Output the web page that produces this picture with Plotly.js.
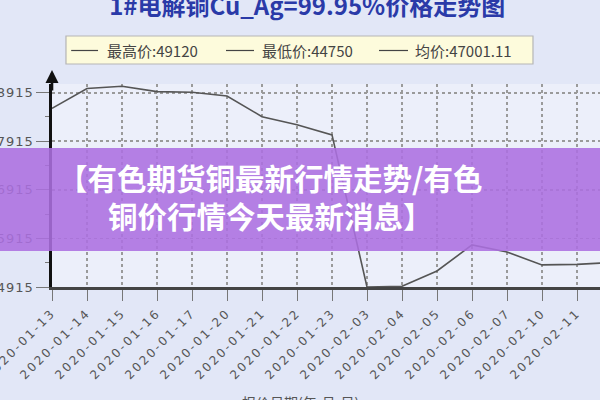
<!DOCTYPE html>
<html>
<head>
<meta charset="utf-8">
<script src="https://cdn.plot.ly/plotly-3.0.1.min.js"></script>
<style>
html,body{margin:0;padding:0;background:#e2e7f7;}
#chart{width:600px;height:400px;}
.xtick text{letter-spacing:2.4px;}
.ytick text{letter-spacing:1px;}
</style>
</head>
<body>
<div id="chart"></div>
<script>
// ---- data ----
const dates = ['2020-01-13','2020-01-14','2020-01-15','2020-01-16','2020-01-17','2020-01-20','2020-01-21','2020-01-22','2020-01-23','2020-02-03','2020-02-04','2020-02-05','2020-02-06','2020-02-07','2020-02-10','2020-02-11','2020-02-12'];
const prices = [48590, 49000, 49045, 48935, 48922, 48845, 48420, 48255, 48045, 44915, 44930, 45245, 45780, 45635, 45370, 45380, 45420];
const yTicks = [44915, 45915, 46915, 47915, 48915];
const yTickText = ['44915', '45915', '46915', '47915', '48915'];
const chartTitle = '1#电解铜Cu_Ag=99.95%价格走势图';
const legendTexts = ['最高价:49120', '最低价:44750', '均价:47001.11'];
const bannerText = '【有色期货铜最新行情走势/有色<br>铜价行情今天最新消息】';
const xAxisTitle = '报价日期(年-月-日)';

const trace = {
  x: dates, y: prices, type: 'scatter', mode: 'lines',
  line: {color: '#555', width: 1.6},
  hoverinfo: 'skip', showlegend: false
};

// legend line positions (paper coords; plot spans x 52..600, y 84..287 px)
const legLines = [[0.035, 0.084], [0.3175, 0.3686], [0.5967, 0.6496]];
const legTextX = [0.0985, 0.3815, 0.661];
const legY = (287 - 50.5) / 203;

const shapes = [
  {type:'rect', xref:'paper', yref:'paper', x0:0.0255, x1:0.8777, y0:(287-64)/203, y1:(287-36)/203,
   fillcolor:'#fdfbdc', line:{color:'#b5b5b5', width:1.2}, layer:'above'},
];
legLines.forEach(l => shapes.push({type:'line', xref:'paper', yref:'paper', x0:l[0], x1:l[1], y0:legY, y1:legY,
  line:{color:'#444', width:1.2}, layer:'above'}));
shapes.push({type:'rect', xref:'paper', yref:'paper', x0:-0.12, x1:1.02, y0:0.1773, y1:0.6847,
  fillcolor:'rgba(172,112,224,0.88)', line:{width:0}, layer:'above'});

const annotations = legendTexts.map((t, i) => ({
  text: t, xref:'paper', yref:'paper', x: legTextX[i], y: legY, xanchor:'left', yanchor:'middle',
  showarrow:false, borderpad:0, font:{family:'Noto Sans CJK SC', size:15, color:'#444'}
}));
annotations.push({
  text: bannerText, xref:'paper', yref:'paper', x:0.398, y:0.446, xanchor:'center', yanchor:'middle',
  showarrow:false, align:'center',
  font:{family:'Noto Sans CJK SC', size:29.5, color:'#ffffff', weight:700}
});
annotations.push({
  text: xAxisTitle, xref:'paper', yref:'paper', x:0.4526, y:-0.565, xanchor:'center', yanchor:'middle',
  showarrow:false, font:{family:'Noto Sans CJK SC', size:14, color:'#555'}
});
// y-axis arrow
annotations.push({
  text:'', xref:'paper', yref:'paper', x:0, y:1.069, ax:0, ay:22, showarrow:true,
  arrowhead:2, arrowsize:1, arrowwidth:2.6, arrowcolor:'#111'
});

const layout = {
  width: 600, height: 400,
  margin: {l:52, r:0, t:84, b:113, pad:0},
  paper_bgcolor: '#e2e7f7',
  plot_bgcolor: '#eceffa',
  title: {
    text: chartTitle, x:0.512, xanchor:'center', xref:'container',
    y:0.983, yref:'container', yanchor:'middle',
    font:{family:'Noto Sans CJK SC', size:24, color:'#2a3aa8', weight:700}
  },
  xaxis: {
    type:'category', range:[0, 15.657], tickangle:-45,
    showgrid:true, gridcolor:'#9a9a9a', griddash:'dot', gridwidth:1.5,
    showline:true, linecolor:'#444', linewidth:3,
    ticks:'outside', ticklen:11, tickcolor:'#777', tickwidth:1,
    tickfont:{family:'DejaVu Sans', size:12, color:'#555'},
    automargin:false, zeroline:false, fixedrange:true
  },
  yaxis: {
    range:[44915, 49092], tickvals: yTicks, ticktext: yTickText,
    showgrid:true, gridcolor:'#9a9a9a', griddash:'dot', gridwidth:1.8,
    showline:true, linecolor:'#111', linewidth:2.6,
    ticks:'outside', ticklen:13, tickcolor:'#777', tickwidth:1,
    minor:{tick0:44915, dtick:500, ticks:'outside', ticklen:4, tickcolor:'#777', showgrid:false},
    tickfont:{family:'DejaVu Sans', size:13, color:'#555'},
    automargin:false, zeroline:false, fixedrange:true
  },
  shapes: shapes,
  annotations: annotations,
  showlegend:false
};

Plotly.newPlot('chart', [trace], layout, {displayModeBar:false, staticPlot:true});
</script>
</body>
</html>
